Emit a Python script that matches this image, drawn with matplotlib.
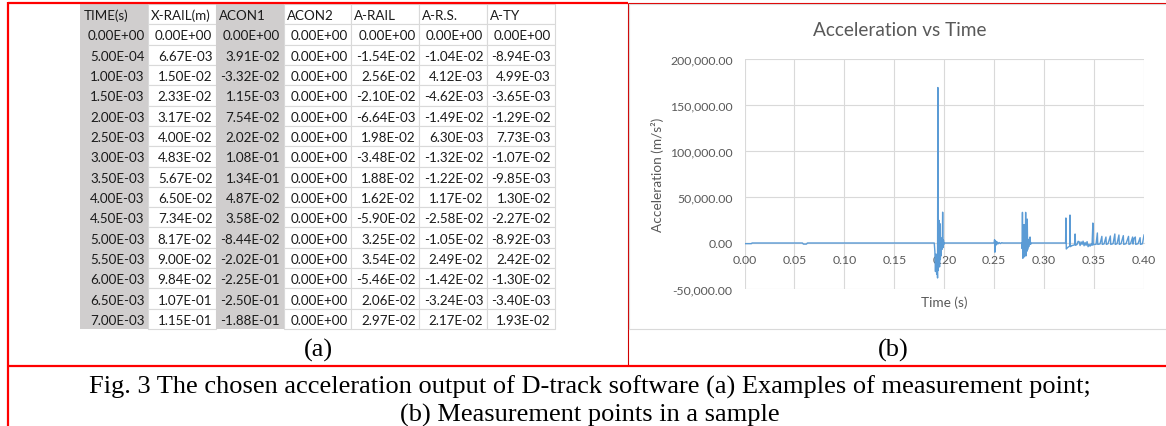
import numpy as np
import matplotlib
matplotlib.use("Agg")
import matplotlib.pyplot as plt
from matplotlib.patches import Rectangle
from matplotlib.ticker import FuncFormatter

W, H = 1166, 427

# ---- (a) table values, as printed ----
col_names = ["TIME(s)", "X-RAIL(m)", "ACON1", "ACON2", "A-RAIL", "A-R.S.", "A-TY"]
time_col = ["0.00E+00", "5.00E-04", "1.00E-03", "1.50E-03", "2.00E-03", "2.50E-03", "3.00E-03", "3.50E-03",
            "4.00E-03", "4.50E-03", "5.00E-03", "5.50E-03", "6.00E-03", "6.50E-03", "7.00E-03"]
x_rail = ["0.00E+00", "6.67E-03", "1.50E-02", "2.33E-02", "3.17E-02", "4.00E-02", "4.83E-02", "5.67E-02",
          "6.50E-02", "7.34E-02", "8.17E-02", "9.00E-02", "9.84E-02", "1.07E-01", "1.15E-01"]
acon1 = ["0.00E+00", "3.91E-02", "-3.32E-02", "1.15E-03", "7.54E-02", "2.02E-02", "1.08E-01", "1.34E-01",
         "4.87E-02", "3.58E-02", "-8.44E-02", "-2.02E-01", "-2.25E-01", "-2.50E-01", "-1.88E-01"]
acon2 = ["0.00E+00", "0.00E+00", "0.00E+00", "0.00E+00", "0.00E+00", "0.00E+00", "0.00E+00", "0.00E+00",
         "0.00E+00", "0.00E+00", "0.00E+00", "0.00E+00", "0.00E+00", "0.00E+00", "0.00E+00"]
a_rail = ["0.00E+00", "-1.54E-02", "2.56E-02", "-2.10E-02", "-6.64E-03", "1.98E-02", "-3.48E-02", "1.88E-02",
          "1.62E-02", "-5.90E-02", "3.25E-02", "3.54E-02", "-5.46E-02", "2.06E-02", "2.97E-02"]
a_rs = ["0.00E+00", "-1.04E-02", "4.12E-03", "-4.62E-03", "-1.49E-02", "6.30E-03", "-1.32E-02", "-1.22E-02",
        "1.17E-02", "-2.58E-02", "-1.05E-02", "2.49E-02", "-1.42E-02", "-3.24E-03", "2.17E-02"]
a_ty = ["0.00E+00", "-8.94E-03", "4.99E-03", "-3.65E-03", "-1.29E-02", "7.73E-03", "-1.07E-02", "-9.85E-03",
        "1.30E-02", "-2.27E-02", "-8.92E-03", "2.42E-02", "-1.30E-02", "-3.40E-03", "1.93E-02"]
table_cols = [time_col, x_rail, acon1, acon2, a_rail, a_rs, a_ty]
gray_cols = [0, 2]

# ---- (b) acceleration signal (s, m/s2) ----
start_t = [0.000, 0.0070, 0.0075, 0.0580, 0.0590, 0.0620, 0.0630]
start_a = [-700, -700, 0, 0, -1200, -1200, 0]

burst1_t = [0.1900, 0.1906, 0.1912, 0.1918, 0.1924, 0.1929, 0.1933, 0.1936, 0.1939, 0.1942,
            0.1946, 0.1950, 0.1953, 0.1957, 0.1961, 0.1965, 0.1969, 0.1973, 0.1977, 0.1981,
            0.1984, 0.1988, 0.1992, 0.1996, 0.2001]
burst1_a = [0, -9000, -31000, -12000, -34000, -24000, -38000, 169000, -30000, 2000,
            -20000, 24500, -26000, 21000, -18000, 6000, -14000, 3000, -7000, 2000,
            33500, -5000, 3000, -1500, 0]

burst2_t = [0.2500, 0.2504, 0.2507, 0.2510, 0.2514, 0.2519, 0.2525, 0.2532, 0.2540, 0.2550,
            0.2562, 0.2575, 0.2590]
burst2_a = [0, 3600, -10000, 2500, -3000, 1800, -1500, 1000, -800, 500, -600, 300, 0]

burst3_t = [0.2775, 0.2779, 0.2783, 0.2787, 0.2791, 0.2795, 0.2799, 0.2803, 0.2807, 0.2811,
            0.2815, 0.2819, 0.2823, 0.2827, 0.2831, 0.2835, 0.2840, 0.2846, 0.2852, 0.2859,
            0.2864, 0.2870]
burst3_a = [0, -6000, 33300, -16600, 8000, -12000, 20000, -15000, 6000, -10000,
            33300, -14000, 24000, -9000, 26000, -7000, 4000, -4000, 2000, 6500,
            -1500, 0]

burst4_t = [0.3215, 0.3218, 0.3222, 0.3230, 0.3240, 0.3250, 0.3256, 0.3259, 0.3263, 0.3275,
            0.3290, 0.3305, 0.3310, 0.3315, 0.3330, 0.3340, 0.3350, 0.3360, 0.3370, 0.3380,
            0.3390, 0.3400, 0.3410, 0.3420, 0.3430, 0.3440, 0.3450, 0.3460, 0.3470, 0.3480]
burst4_a = [0, 27200, -6500, -5500, -4500, -3800, -3500, 30400, -4000, -3000,
            -2500, -2000, 9800, -2500, -1500, 1800, 1500, -2800, 1200, -1500,
            2000, -3000, 500, -2500, 1500, -4000, -1500, -3500, -1000, -2500]

tail_t = [0.3488, 0.3492, 0.3500, 0.3520, 0.3533, 0.3537, 0.3560, 0.3578, 0.3582, 0.3600,
          0.3619, 0.3623, 0.3640, 0.3663, 0.3667, 0.3690, 0.3708, 0.3712, 0.3730, 0.3749,
          0.3753, 0.3770, 0.3793, 0.3797, 0.3820, 0.3845, 0.3849, 0.3865, 0.3886, 0.3890,
          0.3900, 0.3913, 0.3917, 0.3940, 0.3961, 0.3965, 0.3985, 0.4000]
tail_a = [21700, -2000, -1500, -1500, 10900, -1500, -1000, 7200, -1500, -1000,
          6500, -1500, -800, 7600, -1500, -800, 9800, -1500, -800, 8700,
          -1500, -800, 8000, -1500, -800, 7200, -1500, -800, 6500, -1200,
          5000, 6500, -1500, -800, 5800, -1500, -800, 8700]

t_all = np.concatenate([start_t, burst1_t, burst2_t, burst3_t, burst4_t, tail_t])
a_all = np.concatenate([start_a, burst1_a, burst2_a, burst3_a, burst4_a, tail_a])

xticks = [0.00, 0.05, 0.10, 0.15, 0.20, 0.25, 0.30, 0.35, 0.40]
yticks = [-50000, 0, 50000, 100000, 150000, 200000]

fig = plt.figure(figsize=(W / 100, H / 100), dpi=100)

# background axes in pixel coords for the table, frame and captions
bg = fig.add_axes([0, 0, 1, 1])
bg.set_xlim(0, W)
bg.set_ylim(H, 0)
bg.axis("off")

# table
x0, x1 = 80.4, 554.5
y0, y1 = 5.0, 330.0
cw = (x1 - x0) / len(col_names)
rh = (y1 - y0) / (len(time_col) + 1)
cell_font = dict(family="Lato", fontsize=9.6, color="#1a1a1a")

for c in range(len(col_names)):
    cx = x0 + c * cw
    if c in gray_cols:
        bg.add_patch(Rectangle((cx, y0), cw, y1 - y0, facecolor="#d0cece", edgecolor="none"))
    for r in range(len(time_col) + 1):
        cy = y0 + r * rh
        if c not in gray_cols:
            bg.add_patch(Rectangle((cx, cy), cw, rh, facecolor="white", edgecolor="#d9d9d9", lw=0.8))
        if r == 0:
            bg.text(cx + 3, cy + rh / 2 + 1, col_names[c], ha="left", va="center", **cell_font)
        else:
            bg.text(cx + cw - 3.5, cy + rh / 2 + 1, table_cols[c][r - 1], ha="right", va="center", **cell_font)

# red frame of the figure layout
red = "#ff0000"
bg.plot([8, 628], [4, 4], color=red, lw=1.6, solid_capstyle="butt")
bg.plot([628, W], [4, 4], color="#e00000", lw=0.8, solid_capstyle="butt")
bg.plot([8, 8], [3, H], color=red, lw=1.6, solid_capstyle="butt")
bg.plot([627.5, 627.5], [4, 366.5], color="#d00000", lw=0.8, solid_capstyle="butt")
bg.plot([8, W], [366.5, 366.5], color=red, lw=1.6, solid_capstyle="butt")

# light chart-area border of panel (b)
bg.plot([629, 629, W], [330, 5, 5], color="#d9d9d9", lw=0.8)
bg.plot([629, W], [330, 330], color="#d9d9d9", lw=0.8)

serif = dict(family="Liberation Serif", fontsize=19, color="black")
bg.text(318, 350, "(a)", ha="center", va="center", **serif)
bg.text(893, 350, "(b)", ha="center", va="center", **serif)
bg.text(589.5, 394, "Fig. 3 The chosen acceleration output of D-track software (a) Examples of measurement point;",
        ha="center", va="baseline", **serif)
bg.text(589.5, 421.5, "(b) Measurement points in a sample", ha="center", va="baseline", **serif)

# chart titles and axis labels (Excel style)
grey_txt = "#595959"
bg.text(900, 30, "Acceleration vs Time", ha="center", va="center", family="Lato", fontsize=13.7, color=grey_txt)
bg.text(657, 175, "Acceleration (m/s²)", ha="center", va="center", rotation=90,
        family="Lato", fontsize=9.8, color=grey_txt)
bg.text(944.5, 302.5, "Time (s)", ha="center", va="center", family="Lato", fontsize=9.8, color=grey_txt)

# the chart itself
px_l, px_r, px_t, px_b = 744.5, 1144.0, 60.0, 290.0
ax = fig.add_axes([px_l / W, (H - px_b) / H, (px_r - px_l) / W, (px_b - px_t) / H])
ax.patch.set_alpha(0)
ax.plot(t_all, a_all, color="#5b9bd5", lw=1.0, zorder=3)
ax.set_xlim(0, 0.4)
ax.set_ylim(-50000, 200000)
ax.set_xticks(xticks)
ax.set_yticks(yticks)
ax.xaxis.set_major_formatter(FuncFormatter(lambda v, p: f"{v:.2f}"))
ax.yaxis.set_major_formatter(FuncFormatter(lambda v, p: f"{v:,.2f}"))
ax.grid(color="#d9d9d9", lw=0.8)
ax.set_axisbelow(True)
for s in ["left", "top", "right"]:
    ax.spines[s].set_visible(False)
ax.spines["bottom"].set_position(("data", 0))
ax.spines["bottom"].set_color("#d9d9d9")
ax.spines["bottom"].set_linewidth(0.8)
ax.tick_params(axis="both", length=0, labelsize=8.8, labelcolor=grey_txt)
ax.tick_params(axis="x", pad=8)
ax.tick_params(axis="y", pad=8.5)
for lab in ax.get_xticklabels() + ax.get_yticklabels():
    lab.set_family("Lato")

fig.savefig("out.png", dpi=100)
